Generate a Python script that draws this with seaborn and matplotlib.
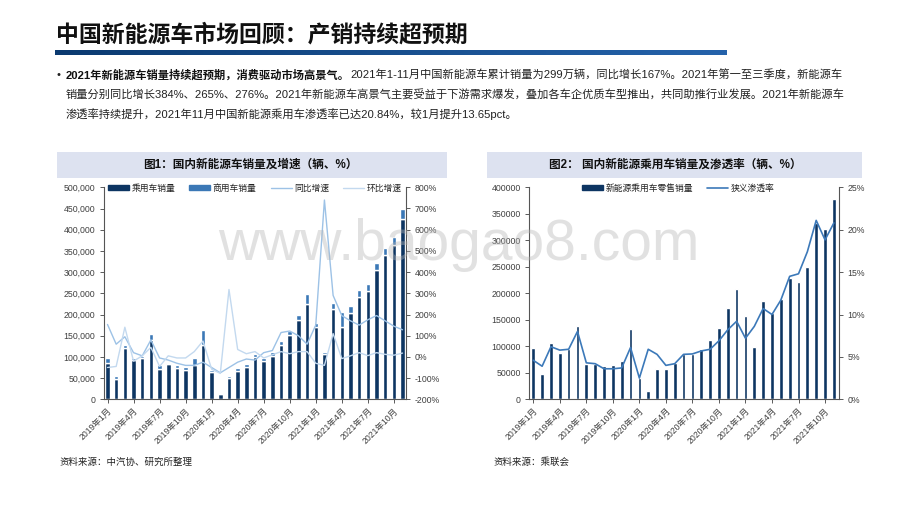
import numpy as np
import pandas as pd
import matplotlib
matplotlib.use('Agg')
import matplotlib.pyplot as plt
import seaborn as sns
from matplotlib.patches import Rectangle, Patch
from matplotlib.lines import Line2D
from matplotlib.text import Annotation
from matplotlib.colors import LinearSegmentedColormap
from matplotlib.ticker import FuncFormatter

months = [f'{y}年{m}月' for y in (2019, 2020, 2021) for m in range(1, 13)][:35]

# 图1：国内新能源车销量（辆）及增速（%）
passenger = [86000, 49000, 120000, 93000, 98000, 141000, 71000, 83000, 74000, 68000, 80000, 127000,
             64000, 13000, 50000, 66000, 76000, 99000, 91000, 103000, 127000, 151000, 187000, 225000,
             170000, 107000, 213000, 171000, 204000, 242000, 256000, 306000, 340000, 364000, 426000]
commercial = [11000, 6000, 7000, 5000, 5000, 13000, 11000, 2000, 7000, 8000, 18000, 36000,
              4000, 2000, 6000, 8000, 8000, 7000, 7000, 8000, 11000, 10000, 13000, 24000,
              9000, 4000, 13000, 36000, 15000, 15000, 15000, 16000, 18000, 19000, 23000]
yoy = [153, 60, 95, 20, 5, 80, -5, -15, -30, -40, -40, -25,
       -50, -75, -50, -25, -10, -15, 20, 30, 115, 122, 100, 60,
       150, 740, 290, 195, 170, 150, 175, 195, 170, 145, 128]
mom = [-50, -45, 140, -20, 5, 45, -45, 5, -5, -5, 25, 75,
       -58, -78, 318, 35, 15, 25, -5, 10, 25, 15, 25, 25,
       -30, -40, 110, -8, 5, 20, 6, 20, 12, 8, 18]

# 图2：国内新能源乘用车零售销量（辆）及狭义渗透率（%）
retail = [97000, 48000, 107000, 87000, 95000, 139000, 67000, 66000, 63000, 64000, 73000, 132000,
          41000, 15000, 57000, 57000, 69000, 85000, 85000, 94000, 111000, 134000, 172000, 208000,
          157000, 99000, 186000, 162000, 189000, 229000, 222000, 249000, 333000, 321000, 377000]
penetration = [4.6, 3.9, 6.2, 5.8, 5.9, 8.0, 4.3, 4.2, 3.6, 3.6, 3.7, 6.1,
               2.5, 5.9, 5.3, 4.0, 4.2, 5.3, 5.35, 5.7, 5.9, 6.9, 8.2, 9.2,
               7.2, 8.6, 10.7, 10.0, 11.7, 14.5, 14.8, 17.4, 21.1, 18.8, 20.8]

pos = np.arange(len(months))

sns.set_style('ticks')
plt.rcParams['font.family'] = ['Liberation Sans', 'Noto Sans CJK SC', 'DejaVu Sans']
plt.rcParams['axes.unicode_minus'] = False

W, H = 920, 518
fig = plt.figure(figsize=(9.2, 5.18), dpi=100)
fig.patch.set_facecolor('white')


def fx(x):
    return x / W


def fy(y):
    return 1 - y / H


# 页面标题 + 渐变下划线
fig.text(fx(56), fy(35), '中国新能源车市场回顾：产销持续超预期', fontsize=16.5,
         weight='bold', va='center', color='#111111')
bar_ax = fig.add_axes([fx(55), fy(55), 672 / W, 5 / H])
bar_ax.imshow(np.linspace(0, 1, 256)[None, :], aspect='auto',
              cmap=LinearSegmentedColormap.from_list('u', ['#0b3a70', '#2563ab']))
bar_ax.axis('off')

# 正文
fig.text(fx(57), fy(75), '•', fontsize=8, va='center', color='#222222')
lines = [
    ('2021年新能源车销量持续超预期，消费驱动市场高景气。',
     '2021年1-11月中国新能源车累计销量为299万辆，同比增长167%。2021年第一至三季度，新能源车'),
    ('', '销量分别同比增长384%、265%、276%。2021年新能源车高景气主要受益于下游需求爆发，叠加各车企优质车型推出，共同助推行业发展。2021年新能源车'),
    ('', '渗透率持续提升，2021年11月中国新能源乘用车渗透率已达20.84%，较1月提升13.65pct。'),
]
for (bold, normal), y in zip(lines, [75, 95, 114]):
    t = fig.text(fx(66), fy(y), bold, fontsize=8.1, weight='bold', va='center', color='#111111')
    fig.add_artist(Annotation(normal, xy=(1, 0.5), xycoords=t, va='center', ha='left',
                              fontsize=8.1, color='#222222'))

# 图表标题栏
band = '#dde2f0'
fig.patches.append(Rectangle((fx(57), fy(178)), 390 / W, 26 / H, transform=fig.transFigure,
                             facecolor=band, edgecolor='none'))
fig.patches.append(Rectangle((fx(487), fy(178)), 375 / W, 26 / H, transform=fig.transFigure,
                             facecolor=band, edgecolor='none'))
fig.text(fx(250), fy(165), '图1：国内新能源车销量及增速（辆、%）', fontsize=8.4, weight='bold',
         ha='center', va='center', color='#111111')
fig.text(fx(675), fy(165), '图2： 国内新能源乘用车销量及渗透率（辆、%）', fontsize=8.4, weight='bold',
         ha='center', va='center', color='#111111')

c_pass, c_comm = '#0d3562', '#3b78b6'
c_yoy, c_mom = '#9dc2e6', '#c3d9ef'
c_pen = '#3c79b9'
spine_c, text_c = '#555555', '#404040'


def style(ax, axr):
    for s in ['top', 'right']:
        ax.spines[s].set_visible(False)
    for s in ['top', 'left', 'bottom']:
        axr.spines[s].set_visible(False)
    for sp in [ax.spines['left'], ax.spines['bottom'], axr.spines['right']]:
        sp.set_color(spine_c)
        sp.set_linewidth(0.8)
    for a in (ax, axr):
        a.tick_params(axis='y', direction='out', length=3, width=0.6, labelsize=6.3,
                      colors=text_c, pad=3)
        a.set_ylabel('')
        a.set_xlabel('')
    ax.tick_params(axis='x', direction='out', length=3, width=0.6, labelsize=6.2,
                   colors=text_c, pad=2)
    ax.set_xticks(range(0, len(months), 3))
    ax.set_xticklabels(months[::3], rotation=45, ha='right', rotation_mode='anchor')
    ax.set_facecolor('none')


# 图1
ax1 = fig.add_axes([fx(103.6), fy(399.3), (406 - 103.6) / W, 212 / H])
sns.barplot(x=months, y=passenger, color=c_pass, width=0.52, saturation=1, ax=ax1)
sns.barplot(x=months, y=commercial, bottom=passenger, color=c_comm, width=0.52,
            saturation=1, ax=ax1)
ax1b = ax1.twinx()
sns.lineplot(x=pos, y=yoy, color=c_yoy, lw=1.0, ax=ax1b)
sns.lineplot(x=pos, y=mom, color=c_mom, lw=1.0, ax=ax1b)
ax1.set_ylim(0, 500000)
ax1.set_yticks(range(0, 500001, 50000))
ax1.yaxis.set_major_formatter(FuncFormatter(lambda v, p: f'{int(v):,}'))
ax1b.set_ylim(-200, 800)
ax1b.set_yticks(range(-200, 801, 100))
ax1b.yaxis.set_major_formatter(FuncFormatter(lambda v, p: f'{int(v)}%'))
style(ax1, ax1b)
ax1.set_xlim(-0.45, 34.4)
h1 = [Patch(color=c_pass, label='乘用车销量'), Patch(color=c_comm, label='商用车销量'),
      Line2D([], [], color=c_yoy, lw=1, label='同比增速'),
      Line2D([], [], color=c_mom, lw=1, label='环比增速')]
ax1b.legend(handles=h1, ncol=4, loc='upper center', bbox_to_anchor=(0.5, 1.035), frameon=False,
            fontsize=6.3, handlelength=2.4, handleheight=0.55, columnspacing=1.6,
            handletextpad=0.3, borderaxespad=0, labelcolor='#222222')

# 图2
ax2 = fig.add_axes([fx(529.3), fy(399.3), (839 - 529.3) / W, 212 / H])
sns.barplot(x=months, y=retail, color=c_pass, width=0.42, saturation=1, ax=ax2)
ax2b = ax2.twinx()
sns.lineplot(x=pos, y=penetration, color=c_pen, lw=1.2, ax=ax2b)
ax2.set_ylim(0, 400000)
ax2.set_yticks(range(0, 400001, 50000))
ax2b.set_ylim(0, 25)
ax2b.set_yticks(range(0, 26, 5))
ax2b.yaxis.set_major_formatter(FuncFormatter(lambda v, p: f'{int(v)}%'))
style(ax2, ax2b)
ax2.set_xlim(-0.45, 34.58)
h2 = [Patch(color=c_pass, label='新能源乘用车零售销量'),
      Line2D([], [], color=c_pen, lw=1.2, label='狭义渗透率')]
ax2b.legend(handles=h2, ncol=2, loc='upper center', bbox_to_anchor=(0.48, 1.035), frameon=False,
            fontsize=6.3, handlelength=2.4, handleheight=0.55, columnspacing=1.6,
            handletextpad=0.3, borderaxespad=0, labelcolor='#222222')

# 资料来源
fig.text(fx(60), fy(462), '资料来源：中汽协、研究所整理', fontsize=6.8, va='center', color='#222222')
fig.text(fx(494), fy(462), '资料来源：乘联会', fontsize=6.8, va='center', color='#222222')

# 水印
fig.text(fx(459), fy(260), 'www.baogao8.com', fontsize=41, color='#b5b5b5', alpha=0.4,
         ha='center', va='baseline', family='Liberation Sans', zorder=10)

fig.savefig('out.png', dpi=100)
